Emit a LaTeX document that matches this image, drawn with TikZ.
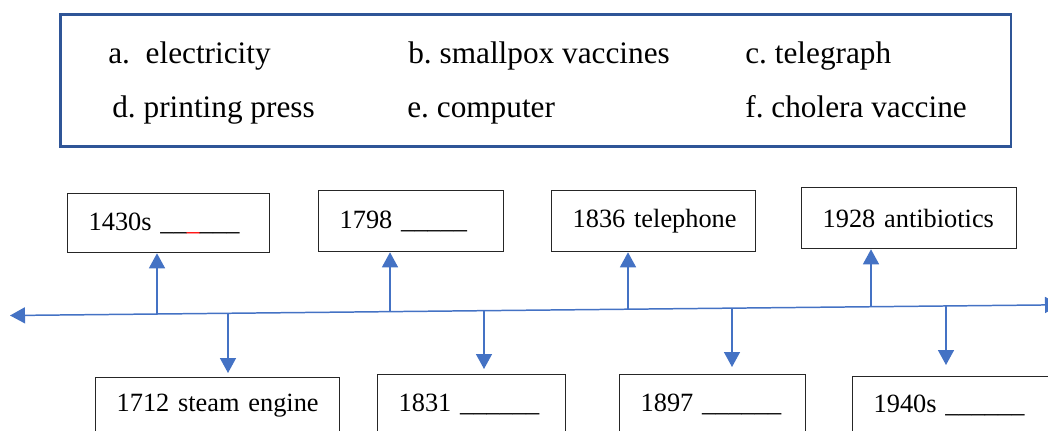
\documentclass[tikz,border=0pt]{standalone}
\usepackage{fontspec}
\setmainfont{Liberation Serif}
\frenchspacing
\usetikzlibrary{arrows.meta}
\usetikzlibrary{calc,positioning}
\definecolor{lineblue}{HTML}{4472C4}
\definecolor{frameblue}{HTML}{2F5597}

\begin{document}
\begin{tikzpicture}[x=0.02cm, y=-0.02cm, >={Triangle[length=0.3cm,width=0.32cm]},
	yearbox/.style={draw=black!85, line width=0.75pt, anchor=north west, inner xsep=0.42cm, inner ysep=0pt, align=left, font=\fontsize{15}{18}\selectfont, execute at begin node={\hyphenpenalty=10000\relax}},
	choice/.style={anchor=base west, inner sep=0pt, font=\fontsize{17.8}{21}\selectfont},
	tline/.style={draw=lineblue, line width=0.85pt}]
	\useasboundingbox (0,0) rectangle (1048,430);
	\clip (0,0) rectangle (1048,430);
	
	% Caixa das respostas
	\node[draw=frameblue, line width=1.5pt, anchor=north west, minimum width=19.02cm, minimum height=2.64cm] (choices) at (59,13) {};
	\node[choice] (ca) at (108,63) {a.~~electricity};
	\node[choice] (cb) at (408,63) {b. smallpox vaccines};
	\node[choice] (cc) at (745,63) {c. telegraph};
	\node[choice] (cd) at (112,117) {d. printing press};
	\node[choice] (ce) at (407,117) {e. computer};
	\node[choice] (cf) at (745,117) {f. cholera vaccine};
	
	% Caixas de cima
	\node[yearbox, minimum width=4.04cm, minimum height=1.18cm, text width=3.2cm] (b1430) at (67,193) {1430s~\_\_\textcolor{red}{\_}\_\_\_};
	\node[yearbox, minimum width=3.70cm, minimum height=1.22cm, text width=2.86cm] (b1798) at (318,190) {1798~\_\_\_\_\_};
	\node[yearbox, minimum width=4.08cm, minimum height=1.22cm, text width=3.24cm] (b1836) at (551,190) {1836~telephone};
	\node[yearbox, minimum width=4.30cm, minimum height=1.22cm, text width=3.46cm] (b1928) at (801,187) {1928~antibiotics};
	
	% Caixas de baixo
	\node[yearbox, minimum width=4.88cm, minimum height=1.12cm, text width=4.04cm] (b1712) at (95,377) {1712~steam~engine};
	\node[yearbox, minimum width=3.76cm, minimum height=1.18cm, text width=2.92cm] (b1831) at (377,374) {1831~\_\_\_\_\_\_};
	\node[yearbox, minimum width=3.72cm, minimum height=1.18cm, text width=2.88cm] (b1897) at (619,374) {1897~\_\_\_\_\_\_};
	\node[yearbox, minimum width=4.40cm, minimum height=1.14cm, text width=3.56cm] (b1940) at (852,376) {1940s~\_\_\_\_\_\_};
	
	% Linha do tempo
	\coordinate (tl) at (10,315.5);
	\coordinate (tr) at (1060,304.8);
	\draw[tline, <->] (tl) -- (tr);
	
	% Pontos na linha
	\coordinate (u1) at (157,314);
	\coordinate (u2) at (390,311.6);
	\coordinate (u3) at (628,309.2);
	\coordinate (u4) at (871,306.7);
	\coordinate (d1) at (228,313.3);
	\coordinate (d2) at (484,310.7);
	\coordinate (d3) at (732,308.2);
	\coordinate (d4) at (946,306);
	
	% Setas
	\draw[tline, ->] (u1) -- (u1 |- b1430.south);
	\draw[tline, ->] (u2) -- (u2 |- b1798.south);
	\draw[tline, ->] (u3) -- (u3 |- b1836.south);
	\draw[tline, ->] (u4) -- (u4 |- b1928.south);
	\draw[tline, ->, shorten >=0.08cm] (d1) -- (d1 |- b1712.north);
	\draw[tline, ->, shorten >=0.1cm] (d2) -- (d2 |- b1831.north);
	\draw[tline, ->, shorten >=0.14cm] (d3) -- (d3 |- b1897.north);
	\draw[tline, ->, shorten >=0.22cm] (d4) -- (d4 |- b1940.north);
\end{tikzpicture}
\end{document}
